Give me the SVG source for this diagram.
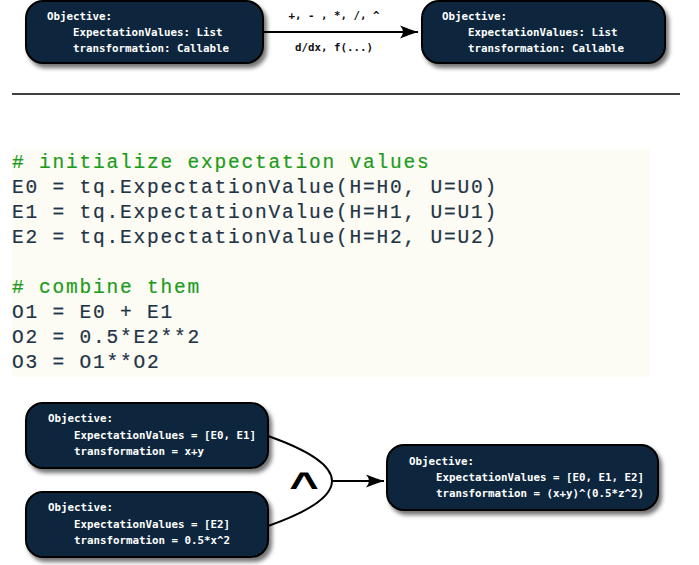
<svg xmlns="http://www.w3.org/2000/svg" width="699" height="565" viewBox="0 0 699 565">
<style>
.box{fill:#0c283c;stroke:#000;stroke-width:2;filter:url(#sh)}
.bt{font-family:"DejaVu Sans Mono",monospace;font-weight:bold;font-size:10.8px;fill:#fff}
.lbl{font-family:"DejaVu Sans Mono",monospace;font-weight:bold;font-size:10.8px;fill:#111;text-anchor:middle}
.code{font-family:"Liberation Mono",monospace;font-size:19.5px;letter-spacing:1.8px;fill:#1f3446;stroke:#1f3446;stroke-width:0.2}
.cm{fill:#1c9c1c;stroke:#1c9c1c}
.conn{fill:none;stroke:#000;stroke-width:2}
</style>
<defs>
<filter id="sh" x="-10%" y="-20%" width="125%" height="160%">
<feDropShadow dx="3" dy="4" stdDeviation="2.2" flood-color="#000" flood-opacity="0.55"/>
</filter>
<marker id="ah" markerUnits="userSpaceOnUse" markerWidth="24" markerHeight="16" viewBox="-20 -8 22 16" refX="0" refY="0" orient="auto">
<path d="M0,0 Q-8,-2.5 -18,-6.5 Q-12,0 -18,6.5 Q-8,2.5 0,0 Z" fill="#000"/>
</marker>
</defs>
<rect width="699" height="565" fill="#fff"/>

<g id="top-left">
<rect class="box" x="26" y="1" width="237" height="62" rx="17"/>
<text class="bt" x="47" y="20">Objective:</text>
<text class="bt" x="73" y="36">ExpectationValues: List</text>
<text class="bt" x="73" y="52">transformation: Callable</text>
</g>
<g id="top-right">
<rect class="box" x="422" y="1" width="243" height="62" rx="17"/>
<text class="bt" x="442" y="20">Objective:</text>
<text class="bt" x="468" y="36">ExpectationValues: List</text>
<text class="bt" x="468" y="52">transformation: Callable</text>
</g>

<line x1="12" y1="94" x2="680" y2="94" stroke="#000" stroke-width="1.5"/>

<g id="code">
<rect x="12" y="149" width="638" height="228" fill="#fcfbf4"/>
<text class="code cm" x="12" y="168"># initialize expectation values</text>
<text class="code" x="12" y="193">E0 = tq.ExpectationValue(H=H0, U=U0)</text>
<text class="code" x="12" y="218">E1 = tq.ExpectationValue(H=H1, U=U1)</text>
<text class="code" x="12" y="243">E2 = tq.ExpectationValue(H=H2, U=U2)</text>
<text class="code cm" x="12" y="293"># combine them</text>
<text class="code" x="12" y="318">O1 = E0 + E1</text>
<text class="code" x="12" y="343">O2 = 0.5*E2**2</text>
<text class="code" x="12" y="368">O3 = O1**O2</text>
</g>

<g id="obj-a">
<rect class="box" x="26" y="403" width="242" height="65" rx="17"/>
<text class="bt" x="48" y="422">Objective:</text>
<text class="bt" x="74" y="438.5">ExpectationValues = [E0, E1]</text>
<text class="bt" x="74" y="455">transformation = x+y</text>
</g>
<g id="obj-b">
<rect class="box" x="26" y="492" width="242" height="65" rx="17"/>
<text class="bt" x="48" y="511">Objective:</text>
<text class="bt" x="74" y="527.5">ExpectationValues = [E2]</text>
<text class="bt" x="74" y="544">transformation = 0.5*x^2</text>
</g>
<g id="obj-c">
<rect class="box" x="387" y="445" width="271" height="65" rx="17"/>
<text class="bt" x="409" y="465">Objective:</text>
<text class="bt" x="436" y="481">ExpectationValues = [E0, E1, E2]</text>
<text class="bt" x="436" y="497">transformation = (x+y)^(0.5*z^2)</text>
</g>

<g id="connectors">
<line class="conn" x1="263" y1="32" x2="418" y2="32" marker-end="url(#ah)"/>
<text class="lbl" x="334" y="19">+, - , *, /, ^</text>
<text class="lbl" x="334" y="51">d/dx, f(...)</text>
<path class="conn" d="M268,436 Q396,481 268,526"/>
<line class="conn" x1="332" y1="481" x2="384" y2="481" marker-end="url(#ah)"/>
<text transform="translate(304,497.5) scale(1.15,0.85)" x="0" y="0" font-family="Liberation Sans, Arial, sans-serif" font-weight="bold" font-size="44" text-anchor="middle" fill="#000">^</text>
</g>
</svg>
